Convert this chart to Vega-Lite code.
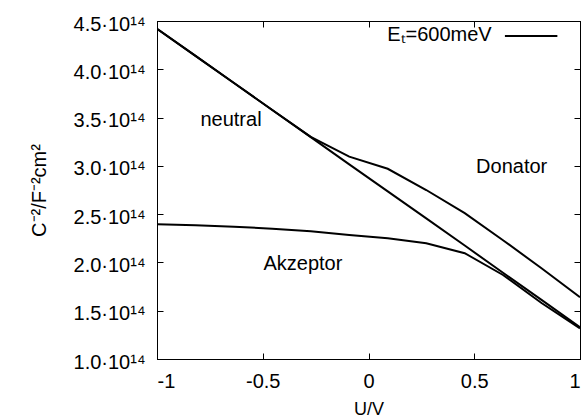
{
  "$schema": "https://vega.github.io/schema/vega-lite/v6.json",
  "width": 423,
  "height": 338,
  "autosize": "none",
  "padding": {"left": 157, "top": 21, "right": 3, "bottom": 60},
  "config": {
    "font": "Liberation Sans",
    "view": {"stroke": "#000000", "strokeWidth": 1},
    "axis": {
      "grid": false,
      "domainColor": "#000000",
      "tickColor": "#000000",
      "labelColor": "#000000",
      "titleColor": "#000000",
      "labelFont": "Liberation Sans",
      "titleFont": "Liberation Sans",
      "labelFontSize": 20,
      "titleFontSize": 20,
      "titleFontWeight": "normal",
      "tickSize": -6,
      "tickWidth": 1
    }
  },
  "data": {
    "values": [
      {"curve": "neutral", "U": -1.0, "C": 4.42e14},
      {"curve": "neutral", "U": -0.818, "C": 4.139e14},
      {"curve": "neutral", "U": -0.636, "C": 3.858e14},
      {"curve": "neutral", "U": -0.455, "C": 3.578e14},
      {"curve": "neutral", "U": -0.273, "C": 3.297e14},
      {"curve": "neutral", "U": -0.091, "C": 3.016e14},
      {"curve": "neutral", "U": 0.091, "C": 2.736e14},
      {"curve": "neutral", "U": 0.273, "C": 2.456e14},
      {"curve": "neutral", "U": 0.455, "C": 2.175e14},
      {"curve": "neutral", "U": 0.636, "C": 1.893e14},
      {"curve": "neutral", "U": 0.818, "C": 1.612e14},
      {"curve": "neutral", "U": 1.0, "C": 1.33e14},
      {"curve": "Donator", "U": -1.0, "C": 4.42e14},
      {"curve": "Donator", "U": -0.818, "C": 4.139e14},
      {"curve": "Donator", "U": -0.636, "C": 3.858e14},
      {"curve": "Donator", "U": -0.455, "C": 3.578e14},
      {"curve": "Donator", "U": -0.273, "C": 3.30e14},
      {"curve": "Donator", "U": -0.091, "C": 3.095e14},
      {"curve": "Donator", "U": 0.091, "C": 2.97e14},
      {"curve": "Donator", "U": 0.273, "C": 2.75e14},
      {"curve": "Donator", "U": 0.455, "C": 2.51e14},
      {"curve": "Donator", "U": 0.636, "C": 2.23e14},
      {"curve": "Donator", "U": 0.818, "C": 1.94e14},
      {"curve": "Donator", "U": 1.0, "C": 1.64e14},
      {"curve": "Akzeptor", "U": -1.0, "C": 2.395e14},
      {"curve": "Akzeptor", "U": -0.818, "C": 2.385e14},
      {"curve": "Akzeptor", "U": -0.636, "C": 2.37e14},
      {"curve": "Akzeptor", "U": -0.455, "C": 2.35e14},
      {"curve": "Akzeptor", "U": -0.273, "C": 2.322e14},
      {"curve": "Akzeptor", "U": -0.091, "C": 2.285e14},
      {"curve": "Akzeptor", "U": 0.091, "C": 2.25e14},
      {"curve": "Akzeptor", "U": 0.273, "C": 2.198e14},
      {"curve": "Akzeptor", "U": 0.455, "C": 2.095e14},
      {"curve": "Akzeptor", "U": 0.636, "C": 1.87e14},
      {"curve": "Akzeptor", "U": 0.818, "C": 1.58e14},
      {"curve": "Akzeptor", "U": 1.0, "C": 1.318e14}
    ]
  },
  "resolve": {"axis": {"x": "independent", "y": "independent"}},
  "layer": [
    {
      "mark": {"type": "line", "color": "#000000", "strokeWidth": 2, "clip": true},
      "encoding": {
        "x": {
          "field": "U", "type": "quantitative",
          "scale": {"domain": [-1, 1], "nice": false, "zero": false},
          "axis": {"orient": "bottom", "values": [-1, -0.5, 0, 0.5, 1], "labelExpr": "toString(datum.value)", "title": "U/V", "titleFontSize": 18, "labelPadding": 18, "titlePadding": 9}
        },
        "y": {
          "field": "C", "type": "quantitative",
          "scale": {"domain": [1e14, 4.5e14], "nice": false, "zero": false},
          "axis": {"orient": "left", "values": [1e14, 1.5e14, 2e14, 2.5e14, 3e14, 3.5e14, 4e14, 4.5e14], "labelExpr": "format(datum.value/1e14, '.1f') + '·10¹⁴'", "title": "C⁻²/F⁻²cm²", "labelPadding": 18, "labelOffset": 3, "titlePadding": 24}
        },
        "detail": {"field": "curve"}
      }
    },
    {
      "mark": {"type": "line", "strokeOpacity": 0},
      "encoding": {
        "x": {"field": "U", "type": "quantitative", "axis": {"orient": "top", "values": [-1, -0.5, 0, 0.5, 1], "labels": false, "title": null}},
        "y": {"field": "C", "type": "quantitative", "axis": {"orient": "right", "values": [1e14, 1.5e14, 2e14, 2.5e14, 3e14, 3.5e14, 4e14, 4.5e14], "labels": false, "title": null}},
        "detail": {"field": "curve"}
      }
    },
    {
      "data": {"values": [{}]},
      "mark": {"type": "text", "text": "neutral", "fontSize": 20, "align": "center", "baseline": "alphabetic", "color": "#000000"},
      "encoding": {"x": {"datum": -0.65, "type": "quantitative", "axis": null}, "y": {"datum": 3.413e14, "type": "quantitative", "axis": null}}
    },
    {
      "data": {"values": [{}]},
      "mark": {"type": "text", "text": "Donator", "fontSize": 20, "align": "center", "baseline": "alphabetic", "color": "#000000"},
      "encoding": {"x": {"datum": 0.677, "type": "quantitative", "axis": null}, "y": {"datum": 2.923e14, "type": "quantitative", "axis": null}}
    },
    {
      "data": {"values": [{}]},
      "mark": {"type": "text", "text": "Akzeptor", "fontSize": 20, "align": "center", "baseline": "alphabetic", "color": "#000000"},
      "encoding": {"x": {"datum": -0.31, "type": "quantitative", "axis": null}, "y": {"datum": 1.922e14, "type": "quantitative", "axis": null}}
    },
    {
      "data": {"values": [{}]},
      "mark": {"type": "text", "text": "Eₜ=600meV", "fontSize": 20, "align": "right", "baseline": "alphabetic", "color": "#000000"},
      "encoding": {"x": {"datum": 0.5825, "type": "quantitative", "axis": null}, "y": {"datum": 4.29e14, "type": "quantitative", "axis": null}}
    },
    {
      "data": {"values": [{}]},
      "mark": {"type": "rule", "color": "#000000", "strokeWidth": 2},
      "encoding": {"x": {"datum": 0.645, "type": "quantitative", "axis": null}, "x2": {"datum": 0.893}, "y": {"datum": 4.345e14, "type": "quantitative", "axis": null}}
    }
  ]
}
